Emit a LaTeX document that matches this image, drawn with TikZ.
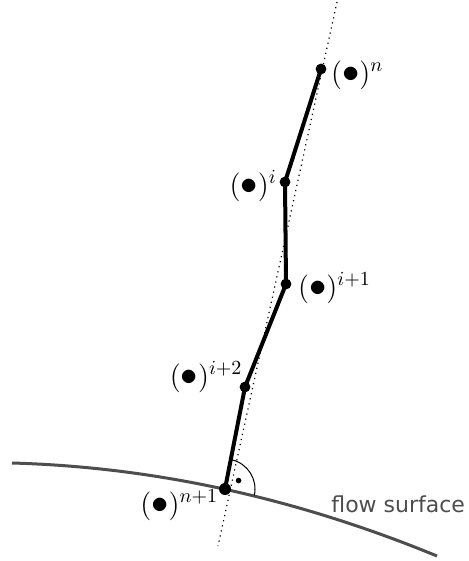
\documentclass[tikz,border=0pt]{standalone}
\usepackage{fontspec}
\usepackage{amsmath}
\usetikzlibrary{positioning,calc}
\newfontfamily\surffont{DejaVu Sans}
\definecolor{flaecheGrau}{HTML}{4D4D4D}
\newcommand{\dickpunkt}{\vcenter{\hbox{\fontsize{18}{20}\selectfont$\bullet$}}}

\tikzset{
  pkt/.style={circle,fill=black,inner sep=0pt,minimum size=5.4pt},
  kette/.style={line width=2pt,line join=round},
  lbl/.style={inner sep=1pt,font=\fontsize{14}{16}\selectfont},
}

\begin{document}
\begin{tikzpicture}[x=0.5pt,y=-0.5pt]
\useasboundingbox (0,0) rectangle (469,561);
% flow surface
\draw[flaecheGrau,line width=1.5pt] (12,463) .. controls (154,467) and (296,498) .. (437,556);
\node[flaecheGrau,anchor=base west,inner sep=0pt,font=\surffont\fontsize{11}{13}\selectfont] (fs) at (331,512) {flow surface};
% points
\node[pkt] (pn) at (321,69) {};
\node[pkt] (pi) at (285,182) {};
\node[pkt] (pi1) at (286,284) {};
\node[pkt] (pi2) at (245,387) {};
\node[pkt,minimum size=6pt] (pn1) at (225,489) {};
% normal
\coordinate (nTop) at (337,2);
\coordinate (nBot) at (218,546);
\draw[dotted,line width=0.6pt] (nTop) -- (nBot);
\draw[kette] (pn.center) -- (pi.center) -- (pi1.center) -- (pi2.center) -- (pn1.center);
% right angle
\draw[line width=0.5pt] ($(pn1.center)+(12.3:30)$) arc (12.3:-77:30);
\fill ($(pn1.center)+(-32:16)$) circle (1.4pt);
% labels
\node[lbl,right=1pt of pn,yshift=-3pt] (ln) {$(\dickpunkt)^{n}$};
\node[lbl,left=0pt of pi,yshift=-2pt] (li) {$(\dickpunkt)^{i}$};
\node[lbl,right=2pt of pi1,yshift=-2pt] (li1) {$(\dickpunkt)^{i+1}$};
\node[lbl,above left=-6pt and -2pt of pi2] (li2) {$(\dickpunkt)^{i+2}$};
\node[lbl,below left=-3pt and 0pt of pn1] (ln1) {$(\dickpunkt)^{n+1}$};
\end{tikzpicture}
\end{document}
